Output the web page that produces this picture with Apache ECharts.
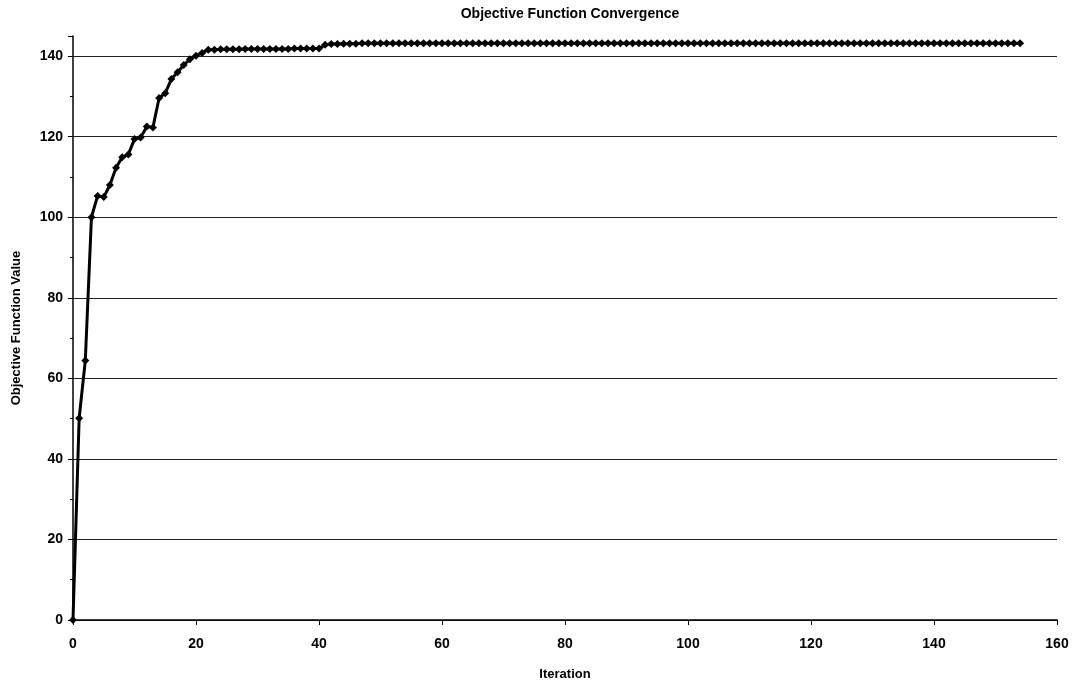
<!DOCTYPE html>
<html>
<head>
<meta charset="utf-8">
<script src="https://cdn.jsdelivr.net/npm/echarts@6/dist/echarts.min.js"></script>
<style>
  html, body { margin: 0; padding: 0; background: #fff; }
  #chart { width: 1073px; height: 686px; }
</style>
</head>
<body>
<div id="chart"></div>
<script>
// Objective value recorded at each optimisation iteration (0..154)
const earlyValues = [
  0, 50.1, 64.4, 100.0, 105.3, 105.0, 108.0, 112.3, 114.9, 115.6,
  119.4, 119.8, 122.5, 122.3, 129.6, 130.8, 134.3, 136.0, 137.8, 139.2,
  140.1, 140.8
];
const plateauValues = [
  141.6, 141.6, 141.7, 141.7, 141.7, 141.7, 141.8, 141.8, 141.8, 141.8,
  141.8, 141.8, 141.8, 141.8, 141.9, 141.9, 141.9, 141.9, 141.9
];
const stepValues = [142.8, 143.0, 143.0, 143.1, 143.1, 143.1, 143.2, 143.2, 143.2];
const tailValues = [
  143.2, 143.2, 143.2, 143.2, 143.2, 143.2, 143.2, 143.2, 143.2, 143.2,
  143.2, 143.2, 143.2, 143.2, 143.2, 143.2, 143.2, 143.2, 143.2, 143.2,
  143.2, 143.2, 143.2, 143.2, 143.2, 143.2, 143.2, 143.2, 143.2, 143.2,
  143.2, 143.2, 143.2, 143.2, 143.2, 143.2, 143.2, 143.2, 143.2, 143.2,
  143.2, 143.2, 143.2, 143.2, 143.2, 143.2, 143.2, 143.2, 143.2, 143.2,
  143.2, 143.2, 143.2, 143.2, 143.2, 143.2, 143.2, 143.2, 143.2, 143.2,
  143.2, 143.2, 143.2, 143.2, 143.2, 143.2, 143.2, 143.2, 143.2, 143.2,
  143.2, 143.2, 143.2, 143.2, 143.2, 143.2, 143.2, 143.2, 143.2, 143.2,
  143.2, 143.2, 143.2, 143.2, 143.2, 143.2, 143.2, 143.2, 143.2, 143.2,
  143.2, 143.2, 143.2, 143.2, 143.2, 143.2, 143.2, 143.2, 143.2, 143.2,
  143.2, 143.2, 143.2, 143.2, 143.2
];
const objectiveValues = earlyValues.concat(plateauValues, stepValues, tailValues);
const iterations = objectiveValues.map((_, i) => i);

const titleText = 'Objective Function Convergence';
const xAxisName = 'Iteration';
const yAxisName = 'Objective Function Value';

const font = '"Liberation Sans", Arial, sans-serif';
const chart = echarts.init(document.getElementById('chart'), null, { renderer: 'canvas' });

chart.setOption({
  backgroundColor: '#ffffff',
  animation: false,
  title: {
    text: titleText,
    left: 565, top: 2, textAlign: 'center',
    textStyle: { fontFamily: font, fontWeight: 'bold', fontSize: 14, color: '#000' }
  },
  grid: { left: 73, right: 16, top: 36, bottom: 63 },
  xAxis: {
    type: 'value', min: 0, max: 160, interval: 20,
    name: xAxisName, nameLocation: 'middle', nameGap: 48,
    nameTextStyle: { fontFamily: font, fontWeight: 'bold', fontSize: 13, color: '#000' },
    axisLine: { show: true, onZero: false, lineStyle: { color: '#000', width: 1.5 } },
    axisTick: { show: true, length: 5, lineStyle: { color: '#000', width: 1 } },
    axisLabel: { fontFamily: font, fontWeight: 'bold', fontSize: 14, color: '#000', margin: 17 },
    splitLine: { show: false }
  },
  yAxis: {
    type: 'value', min: 0, max: 145, interval: 20,
    name: yAxisName, nameLocation: 'middle', nameGap: 50, nameRotate: 90,
    nameTextStyle: { fontFamily: font, fontWeight: 'bold', fontSize: 13, color: '#000' },
    axisLine: { show: true, lineStyle: { color: '#000', width: 1.5 } },
    axisTick: { show: true, length: 5, lineStyle: { color: '#000', width: 1 } },
    minorTick: { show: true, splitNumber: 2, length: 3, lineStyle: { color: '#000', width: 1 } },
    axisLabel: { fontFamily: font, fontWeight: 'bold', fontSize: 14, color: '#000', margin: 10, showMaxLabel: false },
    splitLine: { show: true, showMaxLine: false, lineStyle: { color: '#222', width: 1 } }
  },
  series: [{
    type: 'line',
    data: iterations.map((x, i) => [x, objectiveValues[i]]),
    symbol: 'diamond',
    symbolSize: 8,
    showAllSymbol: true,
    lineStyle: { color: '#000', width: 3 },
    itemStyle: { color: '#000' }
  }]
});
</script>
</body>
</html>
